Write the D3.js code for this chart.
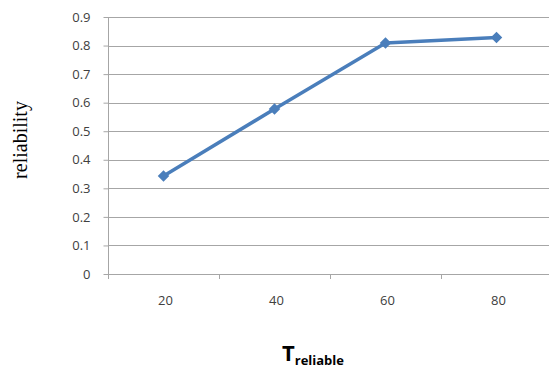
<!DOCTYPE html>
<html><head><meta charset="utf-8">
<script src="https://cdn.jsdelivr.net/npm/d3@7"></script>
<style>body{margin:0;background:#fff}svg{display:block}</style>
</head><body>
<svg id="c" width="552" height="369"></svg>
<script>
const categories = ["20","40","60","80"];
const values = [0.343, 0.578, 0.809, 0.828];
const yTicks = [0,0.1,0.2,0.3,0.4,0.5,0.6,0.7,0.8,0.9];

const svg = d3.select("#c");
const L=108, R=552, T=17, B=274;
const x = d3.scaleBand().domain(categories).range([L,R]);
const y = d3.scaleLinear().domain([0,0.9]).range([B,T]);
const font = "'Open Sans', 'DejaVu Sans', sans-serif";

// gridlines
svg.append("g").selectAll("line").data(yTicks.filter(d=>d>0)).join("line")
  .attr("x1",L).attr("x2",549).attr("y1",d=>Math.round(y(d))+0.5).attr("y2",d=>Math.round(y(d))+0.5)
  .attr("stroke","#a6a6a6").attr("stroke-width",1);

// y axis
const ya = svg.append("g").attr("transform",`translate(${L+0.5},0)`)
  .call(d3.axisLeft(y).tickValues(yTicks).tickSize(5).tickPadding(13).tickFormat(d=>d===0?"0":d3.format(".1f")(d)));
ya.select(".domain").attr("stroke","#a6a6a6").attr("d",`M0,${T}V${B}`);
ya.selectAll(".tick line").attr("stroke","#a6a6a6");
ya.selectAll("text").attr("font-family",font).attr("font-size",13).attr("fill","#404040");

// x axis
const xa = svg.append("g").attr("transform",`translate(0,${B+0.5})`)
  .call(d3.axisBottom(x).tickSize(0).tickPadding(21));
xa.select(".domain").attr("stroke","#a6a6a6").attr("d",`M${L-4},0H549`);
xa.selectAll("text").attr("font-family",font).attr("font-size",13).attr("fill","#404040").attr("dx",2);
svg.append("g").selectAll("line").data(categories).join("line")
  .attr("x1",d=>Math.round(x(d))+0.5).attr("x2",d=>Math.round(x(d))+0.5)
  .attr("y1",B).attr("y2",B+5).attr("stroke","#a6a6a6");

// line
const pts = categories.map((c,i)=>[x(c)+x.bandwidth()/2, y(values[i])]);
svg.append("path").attr("d",d3.line()(pts)).attr("fill","none")
  .attr("stroke","#4a7ebb").attr("stroke-width",3.5).attr("stroke-linejoin","round");
svg.append("g").selectAll("path").data(pts).join("path")
  .attr("d",d3.symbol(d3.symbolDiamond2,85)())
  .attr("transform",d=>`translate(${d[0]},${d[1]})`).attr("fill","#4a7ebb");

// y title
svg.append("text").attr("transform","translate(27,140) rotate(-90)").attr("text-anchor","middle")
  .attr("font-family","'Liberation Serif','Times New Roman',serif").attr("font-size",20).attr("fill","#000").text("reliability");

// x title
const xt = svg.append("text").attr("x",282).attr("y",361).attr("font-family",font).attr("font-weight","bold").attr("fill","#000");
xt.append("tspan").attr("font-size",22).text("T");
xt.append("tspan").attr("font-size",13).attr("dy",4).text("reliable");
</script>
</body></html>
